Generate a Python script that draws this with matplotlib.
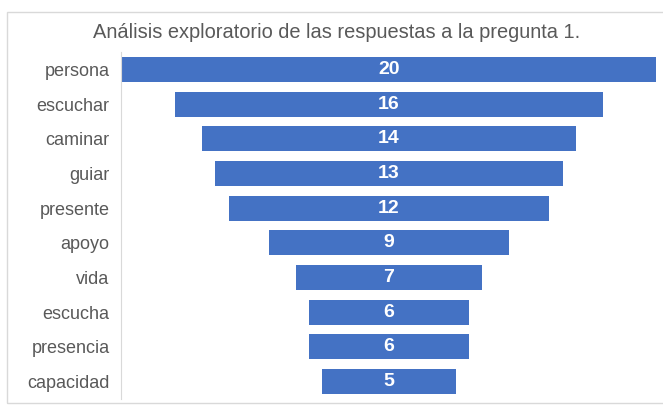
import matplotlib

matplotlib.use("Agg")

import matplotlib.pyplot as plt
from matplotlib.patches import Rectangle

# Funnel data: words and how often they appear in the answers
words = ["persona", "escuchar", "caminar", "guiar", "presente",
         "apoyo", "vida", "escucha", "presencia", "capacidad"]
counts = [20, 16, 14, 13, 12, 9, 7, 6, 6, 5]

TITLE = "Análisis exploratorio de las respuestas a la pregunta 1."
BAR_COLOR = "#4472C4"
TEXT_COLOR = "#595959"

plt.rcParams["font.family"] = ["Liberation Sans", "DejaVu Sans"]

W, H = 663, 407
fig = plt.figure(figsize=(W / 100, H / 100), dpi=100)
fig.patch.set_facecolor("white")

# light frame round the chart area
fig.patches.append(Rectangle((7 / W, 1 - 403 / H), 700 / W, 391 / H,
                             transform=fig.transFigure, fill=False,
                             edgecolor="#d9d9d9", linewidth=1.0))

ax = fig.add_axes([122 / W, 1 - 399 / H, (656 - 122) / W, (399 - 52) / H])

for side in ["top", "right", "bottom"]:
    ax.spines[side].set_visible(False)
ax.spines["left"].set_color("#d9d9d9")
ax.spines["left"].set_position(("outward", 1))

positions = list(range(len(words)))
lefts = [-c / 2 for c in counts]
ax.barh(positions, counts, left=lefts, height=0.72, color=BAR_COLOR)

for y, c in zip(positions, counts):
    ax.text(0, y, str(c), ha="center", va="center", color="white",
            fontsize=14, fontweight="bold")

ax.set_xlim(-10, 10)
ax.set_ylim(len(words) - 0.5, -0.5)
ax.set_yticks(positions)
ax.set_yticklabels(words)
ax.tick_params(axis="y", length=0, pad=8, labelsize=13,
               labelcolor=TEXT_COLOR)
ax.set_xticks([])

fig.text(337 / W, 1 - 33 / H, TITLE, ha="center", va="center",
         fontsize=14.4, color=TEXT_COLOR)

fig.savefig("out.png", dpi=100)
